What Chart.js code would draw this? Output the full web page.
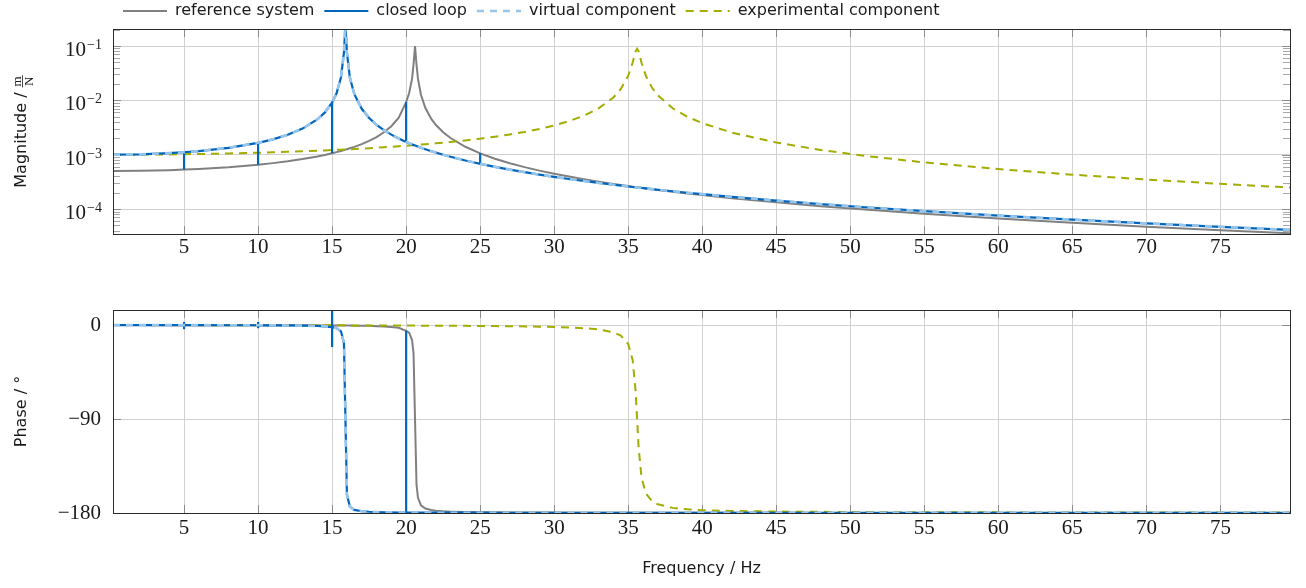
<!DOCTYPE html>
<html>
<head>
<meta charset="utf-8">
<script src="https://cdn.jsdelivr.net/npm/chart.js@4.4.1/dist/chart.umd.min.js"></script>
<style>
  html, body { margin: 0; padding: 0; background: #fff; }
  body { width: 1306px; height: 588px; position: relative; overflow: hidden; }
  .panel { position: absolute; left: 0; width: 1306px; }
  #magBox { top: -7px; height: 280px; }
  #phaseBox { top: 273px; height: 315px; }
</style>
</head>
<body>
<div class="panel" id="magBox"><canvas id="magChart"></canvas></div>
<div class="panel" id="phaseBox"><canvas id="phaseChart"></canvas></div>
<script>
//-------------------- data --------------------
const freq = [0.2, 2, 4, 5, 6, 8, 10, 11, 12, 13, 14, 14.5,
  15, 15.3, 15.6, 15.8, 15.9, 16, 16.2, 16.5,
  17, 17.5, 18, 18.5, 19, 19.5,
  20, 20.2, 20.4, 20.5, 20.6, 20.7, 20.8, 21, 21.3, 21.7, 22,
  22.5, 23, 24, 25, 26, 27, 28, 29, 30, 31, 32, 33, 34, 34.5,
  35, 35.3, 35.5, 35.6, 35.7, 35.9, 36.2, 36.6, 37,
  38, 39, 40, 42, 45, 48, 51, 55, 60, 65, 70, 75, 79.7];

// magnitude in m/N
const magRef = [5.000e-4, 5.048e-4, 5.196e-4, 5.313e-4, 5.463e-4, 5.888e-4, 6.542e-4, 6.994e-4, 7.568e-4, 8.309e-4, 9.291e-4, 9.910e-4,
  1.064e-3, 1.115e-3, 1.172e-3, 1.214e-3, 1.237e-3, 1.260e-3, 1.310e-3, 1.395e-3,
  1.568e-3, 1.797e-3, 2.114e-3, 2.584e-3, 3.349e-3, 4.810e-3,
  9.30e-3, 1.35e-2, 2.51e-2, 4.59e-2, 1.00e-1, 4.57e-2, 2.48e-2, 1.265e-2, 7.23e-3, 4.56e-3, 3.558e-3,
  2.591e-3, 2.028e-3, 1.399e-3, 1.058e-3, 8.432e-4, 6.965e-4, 5.900e-4, 5.093e-4, 4.461e-4, 3.954e-4, 3.538e-4, 3.192e-4, 2.900e-4, 2.770e-4,
  2.650e-4, 2.582e-4, 2.538e-4, 2.517e-4, 2.496e-4, 2.455e-4, 2.395e-4, 2.318e-4, 2.246e-4,
  2.081e-4, 1.935e-4, 1.805e-4, 1.584e-4, 1.326e-4, 1.129e-4, 9.75e-5, 8.16e-5, 6.68e-5, 5.58e-5, 4.74e-5, 4.08e-5, 3.58e-5];

const magVirt = [1.000e-3, 1.016e-3, 1.068e-3, 1.110e-3, 1.166e-3, 1.339e-3, 1.654e-3, 1.918e-3, 2.323e-3, 3.017e-3, 4.450e-3, 5.940e-3,
  9.09e-3, 1.349e-2, 2.661e-2, 7.60e-2, 2.50e-1, 7.55e-2, 2.61e-2, 1.299e-2,
  6.99e-3, 4.73e-3, 3.551e-3, 2.827e-3, 2.337e-3, 1.984e-3,
  1.718e-3, 1.629e-3, 1.548e-3, 1.510e-3, 1.474e-3, 1.439e-3, 1.406e-3, 1.343e-3, 1.259e-3, 1.159e-3, 1.094e-3,
  9.975e-4, 9.15e-4, 7.82e-4, 6.79e-4, 5.974e-4, 5.31e-4, 4.759e-4, 4.30e-4, 3.906e-4, 3.57e-4, 3.28e-4, 3.02e-4, 2.80e-4, 2.70e-4,
  2.600e-4, 2.545e-4, 2.509e-4, 2.492e-4, 2.474e-4, 2.440e-4, 2.390e-4, 2.326e-4, 2.265e-4,
  2.122e-4, 1.994e-4, 1.877e-4, 1.673e-4, 1.427e-4, 1.233e-4, 1.077e-4, 9.12e-5, 7.55e-5, 6.36e-5, 5.44e-5, 4.71e-5, 4.14e-5];

const magExp = [1.000e-3, 1.003e-3, 1.013e-3, 1.020e-3, 1.029e-3, 1.053e-3, 1.086e-3, 1.106e-3, 1.128e-3, 1.154e-3, 1.183e-3, 1.199e-3,
  1.216e-3, 1.227e-3, 1.238e-3, 1.245e-3, 1.249e-3, 1.253e-3, 1.261e-3, 1.274e-3,
  1.295e-3, 1.319e-3, 1.344e-3, 1.370e-3, 1.398e-3, 1.429e-3,
  1.461e-3, 1.475e-3, 1.489e-3, 1.496e-3, 1.503e-3, 1.511e-3, 1.518e-3, 1.534e-3, 1.558e-3, 1.591e-3, 1.618e-3,
  1.665e-3, 1.716e-3, 1.833e-3, 1.973e-3, 2.143e-3, 2.354e-3, 2.622e-3, 2.972e-3, 3.450e-3, 4.137e-3, 5.208e-3, 7.105e-3, 1.130e-2, 1.618e-2,
  2.842e-2, 4.969e-2, 8.00e-2, 8.93e-2, 7.96e-2, 4.92e-2, 2.789e-2, 1.721e-2, 1.234e-2,
  7.15e-3, 4.99e-3, 3.806e-3, 2.552e-3, 1.673e-3, 1.223e-3, 9.50e-4, 7.21e-4, 5.43e-4, 4.29e-4, 3.49e-4, 2.91e-4, 2.49e-4];

// phase in degrees
const phaseRef = [0, 0, -0.1, -0.1, -0.1, -0.1, -0.2, -0.2, -0.2, -0.3, -0.3, -0.4,
  -0.4, -0.4, -0.5, -0.5, -0.5, -0.5, -0.5, -0.6,
  -0.7, -0.8, -1.1, -1.4, -1.8, -2.6,
  -5.5, -7.3, -14.4, -27.2, -90, -152.7, -165.5, -172.6, -175.7, -177.2, -177.8,
  -178.4, -178.7, -179.1, -179.3, -179.4, -179.5, -179.5, -179.6, -179.6, -179.7, -179.7, -179.7, -179.7, -179.7,
  -179.7, -179.7, -179.7, -179.8, -179.8, -179.8, -179.8, -179.8, -179.8,
  -179.8, -179.8, -179.8, -179.8, -179.8, -179.9, -179.9, -179.9, -179.9, -179.9, -179.9, -179.9, -179.9];

const phaseVirt = [0, 0, -0.1, -0.1, -0.1, -0.2, -0.2, -0.3, -0.4, -0.6, -0.9, -1.2,
  -2.0, -3.0, -6.0, -17.6, -90, -162.3, -173.9, -177.0,
  -178.3, -178.8, -179.1, -179.3, -179.4, -179.5,
  -179.5, -179.5, -179.6, -179.6, -179.6, -179.6, -179.6, -179.6, -179.6, -179.7, -179.7,
  -179.7, -179.7, -179.7, -179.7, -179.8, -179.8, -179.8, -179.8, -179.8, -179.8, -179.8, -179.8, -179.8, -179.8,
  -179.8, -179.8, -179.8, -179.8, -179.8, -179.8, -179.8, -179.8, -179.8,
  -179.9, -179.9, -179.9, -179.9, -179.9, -179.9, -179.9, -179.9, -179.9, -179.9, -179.9, -179.9, -179.9];

const phaseExp = [0, 0, 0, 0, -0.1, -0.1, -0.2, -0.2, -0.2, -0.2, -0.3, -0.3,
  -0.3, -0.3, -0.3, -0.3, -0.3, -0.4, -0.4, -0.4,
  -0.4, -0.4, -0.5, -0.5, -0.5, -0.5,
  -0.5, -0.5, -0.5, -0.5, -0.6, -0.6, -0.6, -0.6, -0.6, -0.6, -0.6,
  -0.7, -0.7, -0.8, -0.9, -1.0, -1.2, -1.3, -1.6, -1.9, -2.3, -3.0, -4.2, -6.9, -10.1,
  -18.2, -33.5, -63.3, -90, -116.6, -146.3, -161.5, -168.6, -171.7,
  -175.1, -176.5, -177.3, -178.1, -178.6, -178.9, -179.1, -179.3, -179.4, -179.5, -179.6, -179.6, -179.6];

// closed loop follows the virtual component but jumps at the switching frequencies
const clSpikeFreq = [5, 10, 15, 20, 25];
const clSpikeMag = [[5.31e-4], [6.54e-4], [1.064e-3], [9.3e-3], [1.058e-3]];
const clSpikePhase = [[3, -4], [3, -3], [20, -21], [-5.5], []];

// tick labels
const freqTicks = [5, 10, 15, 20, 25, 30, 35, 40, 45, 50, 55, 60, 65, 70, 75];
const magTickExp = [-4, -3, -2, -1];
const phaseTicks = [-180, -90, 0];

const colRef = '#808080', colClosed = '#0065BD', colVirt = '#98C6EA', colExp = '#A2AD00';
const gridColor = '#d2d2d2';
const serif = '"Liberation Serif", serif';
const sans = '"DejaVu Sans", sans-serif';

function toPoints(xs, ys) {
  return xs.map((x, i) => ({ x: x, y: ys[i] }));
}

function withSpikes(xs, ys, spikeX, spikeY) {
  const pts = [];
  xs.forEach((x, i) => {
    pts.push({ x: x, y: ys[i] });
    const k = spikeX.indexOf(x);
    if (k >= 0) {
      spikeY[k].forEach(v => pts.push({ x: x, y: v }));
      pts.push({ x: x, y: ys[i] });
    }
  });
  return pts;
}

function makeDatasets(ref, virt, exp, spikes) {
  return [
    { label: 'reference system', data: toPoints(freq, ref), borderColor: colRef, borderWidth: 2, order: 3 },
    { label: 'closed loop', data: withSpikes(freq, virt, clSpikeFreq, spikes), borderColor: colClosed, borderWidth: 2.2, order: 1 },
    { label: 'virtual component', data: toPoints(freq, virt), borderColor: colVirt, borderWidth: 2.6, borderDash: [7, 6], order: 0 },
    { label: 'experimental component', data: toPoints(freq, exp), borderColor: colExp, borderWidth: 2, borderDash: [8, 6], order: 2 }
  ];
}

//-------------------- plugins: inner ticks, frame, axis titles, log labels --------------------
const frameTicks = {
  id: 'frameTicks',
  beforeDatasetsDraw(chart) {
    const { ctx, chartArea: a, scales } = chart;
    const xs = scales.x, ys = scales.y;
    ctx.save();
    ctx.lineWidth = 1;
    ctx.strokeStyle = '#8c8c8c';
    ctx.beginPath();
    xs.ticks.forEach(t => {
      const px = Math.round(xs.getPixelForValue(t.value)) + 0.5;
      ctx.moveTo(px, a.top); ctx.lineTo(px, a.top + 8);
      ctx.moveTo(px, a.bottom); ctx.lineTo(px, a.bottom - 8);
    });
    ys.ticks.forEach(t => {
      const py = Math.round(ys.getPixelForValue(t.value)) + 0.5;
      ctx.moveTo(a.left, py); ctx.lineTo(a.left + 8, py);
      ctx.moveTo(a.right, py); ctx.lineTo(a.right - 8, py);
    });
    ctx.stroke();
    if (ys.type === 'logarithmic') {
      ctx.strokeStyle = '#a8a8a8';
      ctx.beginPath();
      for (let e = Math.floor(Math.log10(ys.min)); e <= 0; e++) {
        for (let m = 2; m <= 9; m++) {
          const v = m * Math.pow(10, e);
          if (v < ys.min || v > ys.max) continue;
          const py = Math.round(ys.getPixelForValue(v)) + 0.5;
          ctx.moveTo(a.left, py); ctx.lineTo(a.left + 7, py);
          ctx.moveTo(a.right, py); ctx.lineTo(a.right - 7, py);
        }
      }
      ctx.stroke();
    }
    ctx.restore();
  },
  afterDatasetsDraw(chart) {
    const { ctx, chartArea: a } = chart;
    ctx.save();
    ctx.strokeStyle = '#2a2a2a';
    ctx.lineWidth = 1;
    ctx.strokeRect(Math.round(a.left) + 0.5, Math.round(a.top) + 0.5, Math.round(a.right - a.left), Math.round(a.bottom - a.top));
    ctx.restore();
  }
};

const yTitle = {
  id: 'yTitle',
  afterDraw(chart, args, opts) {
    const { ctx, chartArea: a } = chart;
    ctx.save();
    ctx.translate(opts.x, (a.top + a.bottom) / 2);
    ctx.rotate(-Math.PI / 2);
    ctx.fillStyle = '#1a1a1a';
    ctx.textBaseline = 'alphabetic';
    ctx.font = '16px ' + sans;
    const w1 = ctx.measureText(opts.text).width;
    let w2 = 0;
    if (opts.frac) {
      ctx.font = '13px ' + serif;
      w2 = Math.max(ctx.measureText(opts.frac[0]).width, ctx.measureText(opts.frac[1]).width) + 2;
    }
    const x0 = -(w1 + w2) / 2;
    ctx.font = '16px ' + sans;
    ctx.textAlign = 'left';
    ctx.fillText(opts.text, x0, 0);
    if (opts.frac) {
      const cx = x0 + w1 + w2 / 2;
      ctx.font = '13px ' + serif;
      ctx.textAlign = 'center';
      ctx.fillText(opts.frac[0], cx, -5);
      ctx.fillText(opts.frac[1], cx, 6.5);
      ctx.fillRect(cx - w2 / 2, -3.8, w2, 0.8);
    }
    ctx.restore();
  }
};

const logLabels = {
  id: 'logLabels',
  afterDraw(chart) {
    const ys = chart.scales.y;
    if (ys.type !== 'logarithmic') return;
    const ctx = chart.ctx;
    ctx.save();
    ctx.fillStyle = '#1a1a1a';
    ctx.textBaseline = 'alphabetic';
    magTickExp.forEach(e => {
      const py = ys.getPixelForValue(Math.pow(10, e));
      ctx.font = '21px ' + serif;
      ctx.textAlign = 'right';
      ctx.fillText('10', 86, py + 10);
      ctx.font = '14px ' + serif;
      ctx.textAlign = 'left';
      ctx.fillText('\u2212' + Math.abs(e), 87, py + 3);
    });
    ctx.restore();
  }
};

function xAxis(height, pad, withTitle) {
  return {
    type: 'linear',
    min: 0.2,
    max: 79.7,
    afterBuildTicks: s => { s.ticks = freqTicks.map(v => ({ value: v })); },
    afterFit: s => { s.height = height; },
    grid: { color: gridColor, lineWidth: 1, drawTicks: false },
    border: { display: false },
    ticks: { autoSkip: false, maxRotation: 0, padding: pad, color: '#1a1a1a', font: { family: serif, size: 21 }, callback: v => v },
    title: { display: withTitle, text: 'Frequency / Hz', color: '#1a1a1a', font: { family: sans, size: 16 } }
  };
}

//-------------------- magnitude chart --------------------
new Chart(document.getElementById('magChart'), {
  type: 'line',
  data: { datasets: makeDatasets(magRef, magVirt, magExp, clSpikeMag) },
  options: {
    responsive: true,
    maintainAspectRatio: false,
    animation: false,
    events: [],
    devicePixelRatio: 1,
    layout: { padding: { left: 0, right: 16, top: 0, bottom: 0 } },
    elements: { point: { radius: 0 }, line: { tension: 0 } },
    scales: {
      x: xAxis(39, 1, false),
      y: {
        type: 'logarithmic',
        min: 3.47e-5,
        max: 0.2056,
        afterBuildTicks: s => { s.ticks = magTickExp.map(e => ({ value: Math.pow(10, e) })); },
        afterFit: s => { s.width = 113; },
        grid: { color: gridColor, lineWidth: 1, drawTicks: false },
        border: { display: false },
        ticks: { display: false }
      }
    },
    plugins: {
      tooltip: { enabled: false },
      yTitle: { text: 'Magnitude / ', frac: ['m', 'N'], x: 26 },
      legend: {
        position: 'top',
        align: 'start',
        fullSize: false,
        labels: {
          usePointStyle: true,
          pointStyleWidth: 44,
          padding: 10,
          color: '#1a1a1a',
          font: { family: sans, size: 16 },
          generateLabels: chart => chart.data.datasets.map((ds, i) => ({
            text: ds.label,
            strokeStyle: ds.borderColor,
            fillStyle: ds.borderColor,
            lineWidth: ds.borderWidth,
            lineDash: ds.borderDash || [],
            pointStyle: 'line',
            fontColor: '#1a1a1a',
            hidden: false,
            datasetIndex: i
          }))
        }
      }
    }
  },
  plugins: [frameTicks, yTitle, logLabels]
});

//-------------------- phase chart --------------------
new Chart(document.getElementById('phaseChart'), {
  type: 'line',
  data: { datasets: makeDatasets(phaseRef, phaseVirt, phaseExp, clSpikePhase) },
  options: {
    responsive: true,
    maintainAspectRatio: false,
    animation: false,
    events: [],
    devicePixelRatio: 1,
    layout: { padding: { left: 0, right: 16, top: 37, bottom: 6 } },
    elements: { point: { radius: 0 }, line: { tension: 0 } },
    scales: {
      x: xAxis(69, 3, true),
      y: {
        type: 'linear',
        min: -180,
        max: 14.4,
        afterBuildTicks: s => { s.ticks = phaseTicks.map(v => ({ value: v })); },
        afterFit: s => { s.width = 113; },
        grid: { color: gridColor, lineWidth: 1, drawTicks: false },
        border: { display: false },
        ticks: {
          padding: 12,
          color: '#1a1a1a',
          font: { family: serif, size: 21 },
          callback: v => v < 0 ? '\u2212' + Math.abs(v) : String(v)
        }
      }
    },
    plugins: {
      tooltip: { enabled: false },
      legend: { display: false },
      yTitle: { text: 'Phase / \u00b0', x: 26 }
    }
  },
  plugins: [frameTicks, yTitle]
});
</script>
</body>
</html>
